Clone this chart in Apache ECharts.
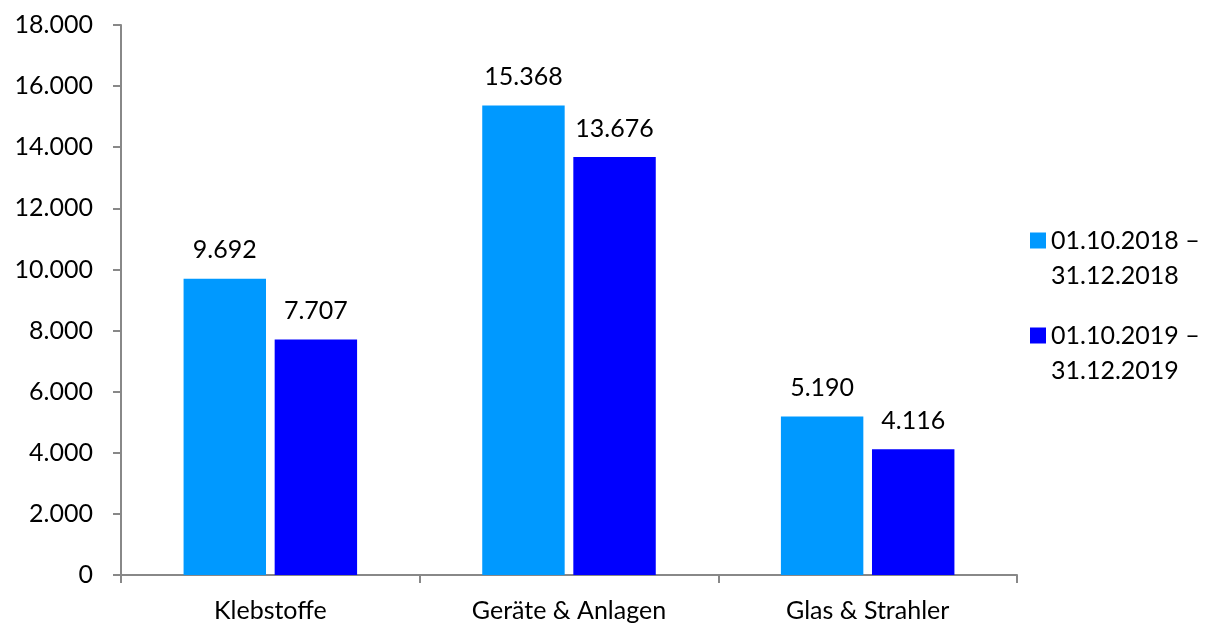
<!DOCTYPE html>
<html>
<head>
<meta charset="utf-8">
<script src="https://cdn.jsdelivr.net/npm/echarts@6/dist/echarts.min.js"></script>
<style>
  html, body { margin: 0; padding: 0; background: #fff; }
  #chart { width: 1207px; height: 623px; }
</style>
</head>
<body>
<div id="chart"></div>
<script>
const categories = ['Klebstoffe', 'Geräte & Anlagen', 'Glas & Strahler'];
const seriesNames = ['01.10.2018 –\n31.12.2018', '01.10.2019 –\n31.12.2019'];
const values2018 = [9692, 15368, 5190];
const values2019 = [7707, 13676, 4116];
const colors = ['#0099ff', '#0000ff'];

const fontFamily = 'Lato, "Open Sans", sans-serif';
const fontSize = 25;
const fmt = v => String(v).replace(/\B(?=(\d{3})+(?!\d))/g, '.');

const chart = echarts.init(document.getElementById('chart'));
chart.setOption({
  animation: false,
  textStyle: { fontFamily: fontFamily },
  grid: { left: 121, right: 190, top: 25, bottom: 48 },
  legend: {
    orient: 'vertical',
    left: 1025,
    top: 183,
    itemWidth: 16,
    itemHeight: 16,
    itemGap: -10,
    icon: 'rect',
    // blank first line so the square lines up with the first text line
    formatter: name => ' \n' + name,
    textStyle: {
      fontFamily: fontFamily,
      fontSize: fontSize,
      color: '#000',
      lineHeight: 35
    },
    data: seriesNames
  },
  xAxis: {
    type: 'category',
    data: categories,
    axisLine: { lineStyle: { color: '#888', width: 2 } },
    axisTick: { show: true, length: 8, lineStyle: { color: '#888', width: 2 } },
    axisLabel: { color: '#000', fontSize: fontSize, margin: 23, fontFamily: fontFamily }
  },
  yAxis: {
    type: 'value',
    min: 0,
    max: 18000,
    interval: 2000,
    splitLine: { show: false },
    axisLine: { show: true, lineStyle: { color: '#888', width: 2 } },
    axisTick: { show: true, length: 8, lineStyle: { color: '#888', width: 2 } },
    axisLabel: { color: '#000', fontSize: fontSize, margin: 28, fontFamily: fontFamily, formatter: fmt }
  },
  series: [
    {
      name: seriesNames[0],
      type: 'bar',
      data: values2018,
      barWidth: '27.6%',
      barGap: '10.5%',
      itemStyle: { color: colors[0] },
      label: {
        show: true, position: 'top', distance: 16,
        color: '#000', fontSize: fontSize, fontFamily: fontFamily,
        formatter: p => fmt(p.value)
      }
    },
    {
      name: seriesNames[1],
      type: 'bar',
      data: values2019,
      barWidth: '27.6%',
      barGap: '10.5%',
      itemStyle: { color: colors[1] },
      label: {
        show: true, position: 'top', distance: 16,
        color: '#000', fontSize: fontSize, fontFamily: fontFamily,
        formatter: p => fmt(p.value)
      }
    }
  ]
});
</script>
</body>
</html>
